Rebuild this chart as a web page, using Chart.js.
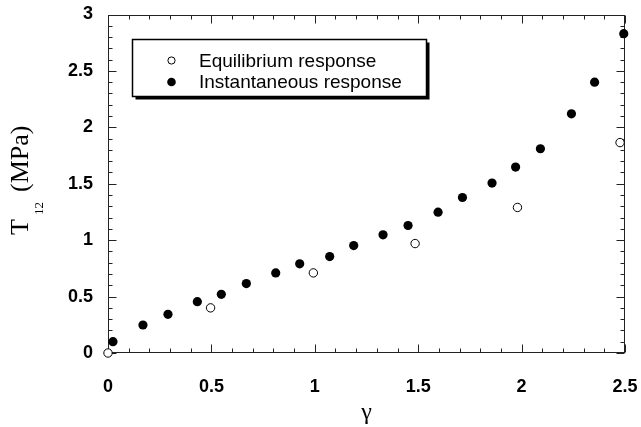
<!DOCTYPE html>
<html><head><meta charset="utf-8">
<script src="https://cdn.jsdelivr.net/npm/chart.js@4/dist/chart.umd.min.js"></script>
<style>html,body{margin:0;padding:0;background:#fff}</style>
</head><body>
<canvas id="c" width="641" height="427"></canvas>
<script>
// ---- data ----
const equilibriumGamma = [0, 0.496, 0.993, 1.485, 1.98, 2.476];
const equilibriumT12   = [0, 0.40, 0.71, 0.97, 1.29, 1.865];
const instantGamma = [0.024, 0.169, 0.29, 0.432, 0.548, 0.669, 0.811, 0.927, 1.072, 1.188,
                      1.33, 1.451, 1.596, 1.714, 1.857, 1.971, 2.091, 2.241, 2.353, 2.494];
const instantT12   = [0.10, 0.248, 0.343, 0.455, 0.52, 0.615, 0.71, 0.79, 0.855, 0.952,
                      1.047, 1.13, 1.248, 1.378, 1.506, 1.648, 1.81, 2.12, 2.40, 2.83];
const xTickValues = [0, 0.5, 1, 1.5, 2, 2.5];
const xTickLabels = ['0', '0.5', '1', '1.5', '2', '2.5'];
const yTickValues = [0, 0.5, 1, 1.5, 2, 2.5, 3];
const yTickLabels = ['0', '0.5', '1', '1.5', '2', '2.5', '3'];
const seriesNames = ['Equilibrium response', 'Instantaneous response'];
const xTitle = 'γ';
const yTitleMain = 'T', yTitleSub = '12', yTitleUnit = '(MPa)';

const toPoints = (xs, ys) => xs.map((x, i) => ({x: x, y: ys[i]}));

const framePlugin = {
  id: 'frame',
  beforeDatasetsDraw(chart) {
    const {ctx, chartArea: a, scales} = chart;
    const xs = scales.x, ys = scales.y;
    ctx.save();
    ctx.strokeStyle = '#222';
    ctx.lineWidth = 1;
    const L = Math.round(a.left) + 0.5, R = Math.round(a.right) - 0.5;
    const T = Math.round(a.top) + 0.5, B = Math.round(a.bottom) - 0.5;
    ctx.strokeRect(L, T, R - L, B - T);
    ctx.beginPath();
    for (let i = 0; i <= 25; i++) {
      const v = i / 10;
      const px = Math.round(xs.getPixelForValue(v)) + 0.5;
      const len = (i % 5 === 0) ? 8 : 4;
      ctx.moveTo(px, B); ctx.lineTo(px, B - len);
      ctx.moveTo(px, T); ctx.lineTo(px, T + len);
    }
    for (let i = 0; i <= 30; i++) {
      const v = i / 10;
      const py = Math.round(ys.getPixelForValue(v)) + 0.5;
      const len = (i % 5 === 0) ? 8 : 4;
      ctx.moveTo(L, py); ctx.lineTo(L + len, py);
      ctx.moveTo(R, py); ctx.lineTo(R - len, py);
    }
    ctx.stroke();
    ctx.restore();
  },
  afterDraw(chart) {
    const {ctx} = chart;
    ctx.save();
    // y-axis title with subscript
    ctx.fillStyle = '#000';
    ctx.translate(27.5, 235);
    ctx.rotate(-Math.PI / 2);
    ctx.textBaseline = 'alphabetic';
    ctx.textAlign = 'left';
    ctx.font = '26px "Liberation Serif"';
    ctx.fillText(yTitleMain, 0, 0);
    ctx.font = '13px "Liberation Serif"';
    ctx.fillText(yTitleSub, 20, 15.5);
    ctx.font = '26px "Liberation Serif"';
    ctx.fillText(yTitleUnit, 43, 0);
    ctx.restore();

    // legend box with shadow
    ctx.save();
    const bx = 132.5, by = 39.5, bw = 294, bh = 57;
    ctx.fillStyle = '#000';
    ctx.fillRect(bx + 3, by + 3, bw, bh);
    ctx.fillStyle = '#fff';
    ctx.fillRect(bx, by, bw, bh);
    ctx.strokeStyle = '#000';
    ctx.lineWidth = 1.5;
    ctx.strokeRect(bx, by, bw, bh);
    // symbols
    ctx.lineWidth = 1;
    ctx.beginPath(); ctx.arc(171.5, 60.5, 3.6, 0, Math.PI * 2);
    ctx.fillStyle = '#fff'; ctx.fill(); ctx.strokeStyle = '#000'; ctx.stroke();
    ctx.beginPath(); ctx.arc(171.5, 82, 4.3, 0, Math.PI * 2);
    ctx.fillStyle = '#000'; ctx.fill();
    ctx.fillStyle = '#000';
    ctx.font = '19px "Liberation Sans"';
    ctx.textBaseline = 'middle';
    ctx.textAlign = 'left';
    ctx.fillText(seriesNames[0], 199, 61.5);
    ctx.fillText(seriesNames[1], 199, 83);
    ctx.restore();
  }
};

new Chart(document.getElementById('c'), {
  type: 'scatter',
  data: {
    datasets: [
      {
        label: seriesNames[1],
        data: toPoints(instantGamma, instantT12),
        pointRadius: 4.6, pointBackgroundColor: '#000', pointBorderColor: '#000',
        pointBorderWidth: 0, showLine: false, clip: false
      },
      {
        label: seriesNames[0],
        data: toPoints(equilibriumGamma, equilibriumT12),
        pointRadius: 4.2, pointBackgroundColor: '#fff', pointBorderColor: '#000',
        pointBorderWidth: 1, showLine: false, clip: false
      }
    ]
  },
  options: {
    responsive: false,
    animation: false,
    devicePixelRatio: 1,
    layout: {autoPadding: false, padding: {top: 14.5, right: 16, left: 0, bottom: 0}},
    plugins: {legend: {display: false}, tooltip: {enabled: false}},
    scales: {
      x: {
        type: 'linear', min: 0, max: 2.5,
        afterBuildTicks: s => { s.ticks = xTickValues.map(v => ({value: v})); },
        afterFit: s => { s.height = 74; },
        ticks: {
          callback: (v) => xTickLabels[xTickValues.indexOf(v)],
          font: {family: 'Liberation Sans', size: 18, weight: 'bold'},
          color: '#000', padding: 0, maxRotation: 0, autoSkip: false
        },
        grid: {display: false, drawTicks: true, tickLength: 23},
        border: {display: false},
        title: {display: true, text: xTitle, color: '#000',
                font: {family: 'Liberation Serif', size: 24}, padding: {top: 0, bottom: 0}}
      },
      y: {
        type: 'linear', min: 0, max: 3,
        afterBuildTicks: s => { s.ticks = yTickValues.map(v => ({value: v})); },
        afterFit: s => { s.width = 108; },
        ticks: {
          callback: (v) => yTickLabels[yTickValues.indexOf(v)],
          font: {family: 'Liberation Sans', size: 18, weight: 'bold'},
          color: '#000', padding: 0, autoSkip: false
        },
        grid: {display: false, drawTicks: true, tickLength: 15},
        border: {display: false}
      }
    }
  },
  plugins: [framePlugin]
});
</script>
</body></html>
